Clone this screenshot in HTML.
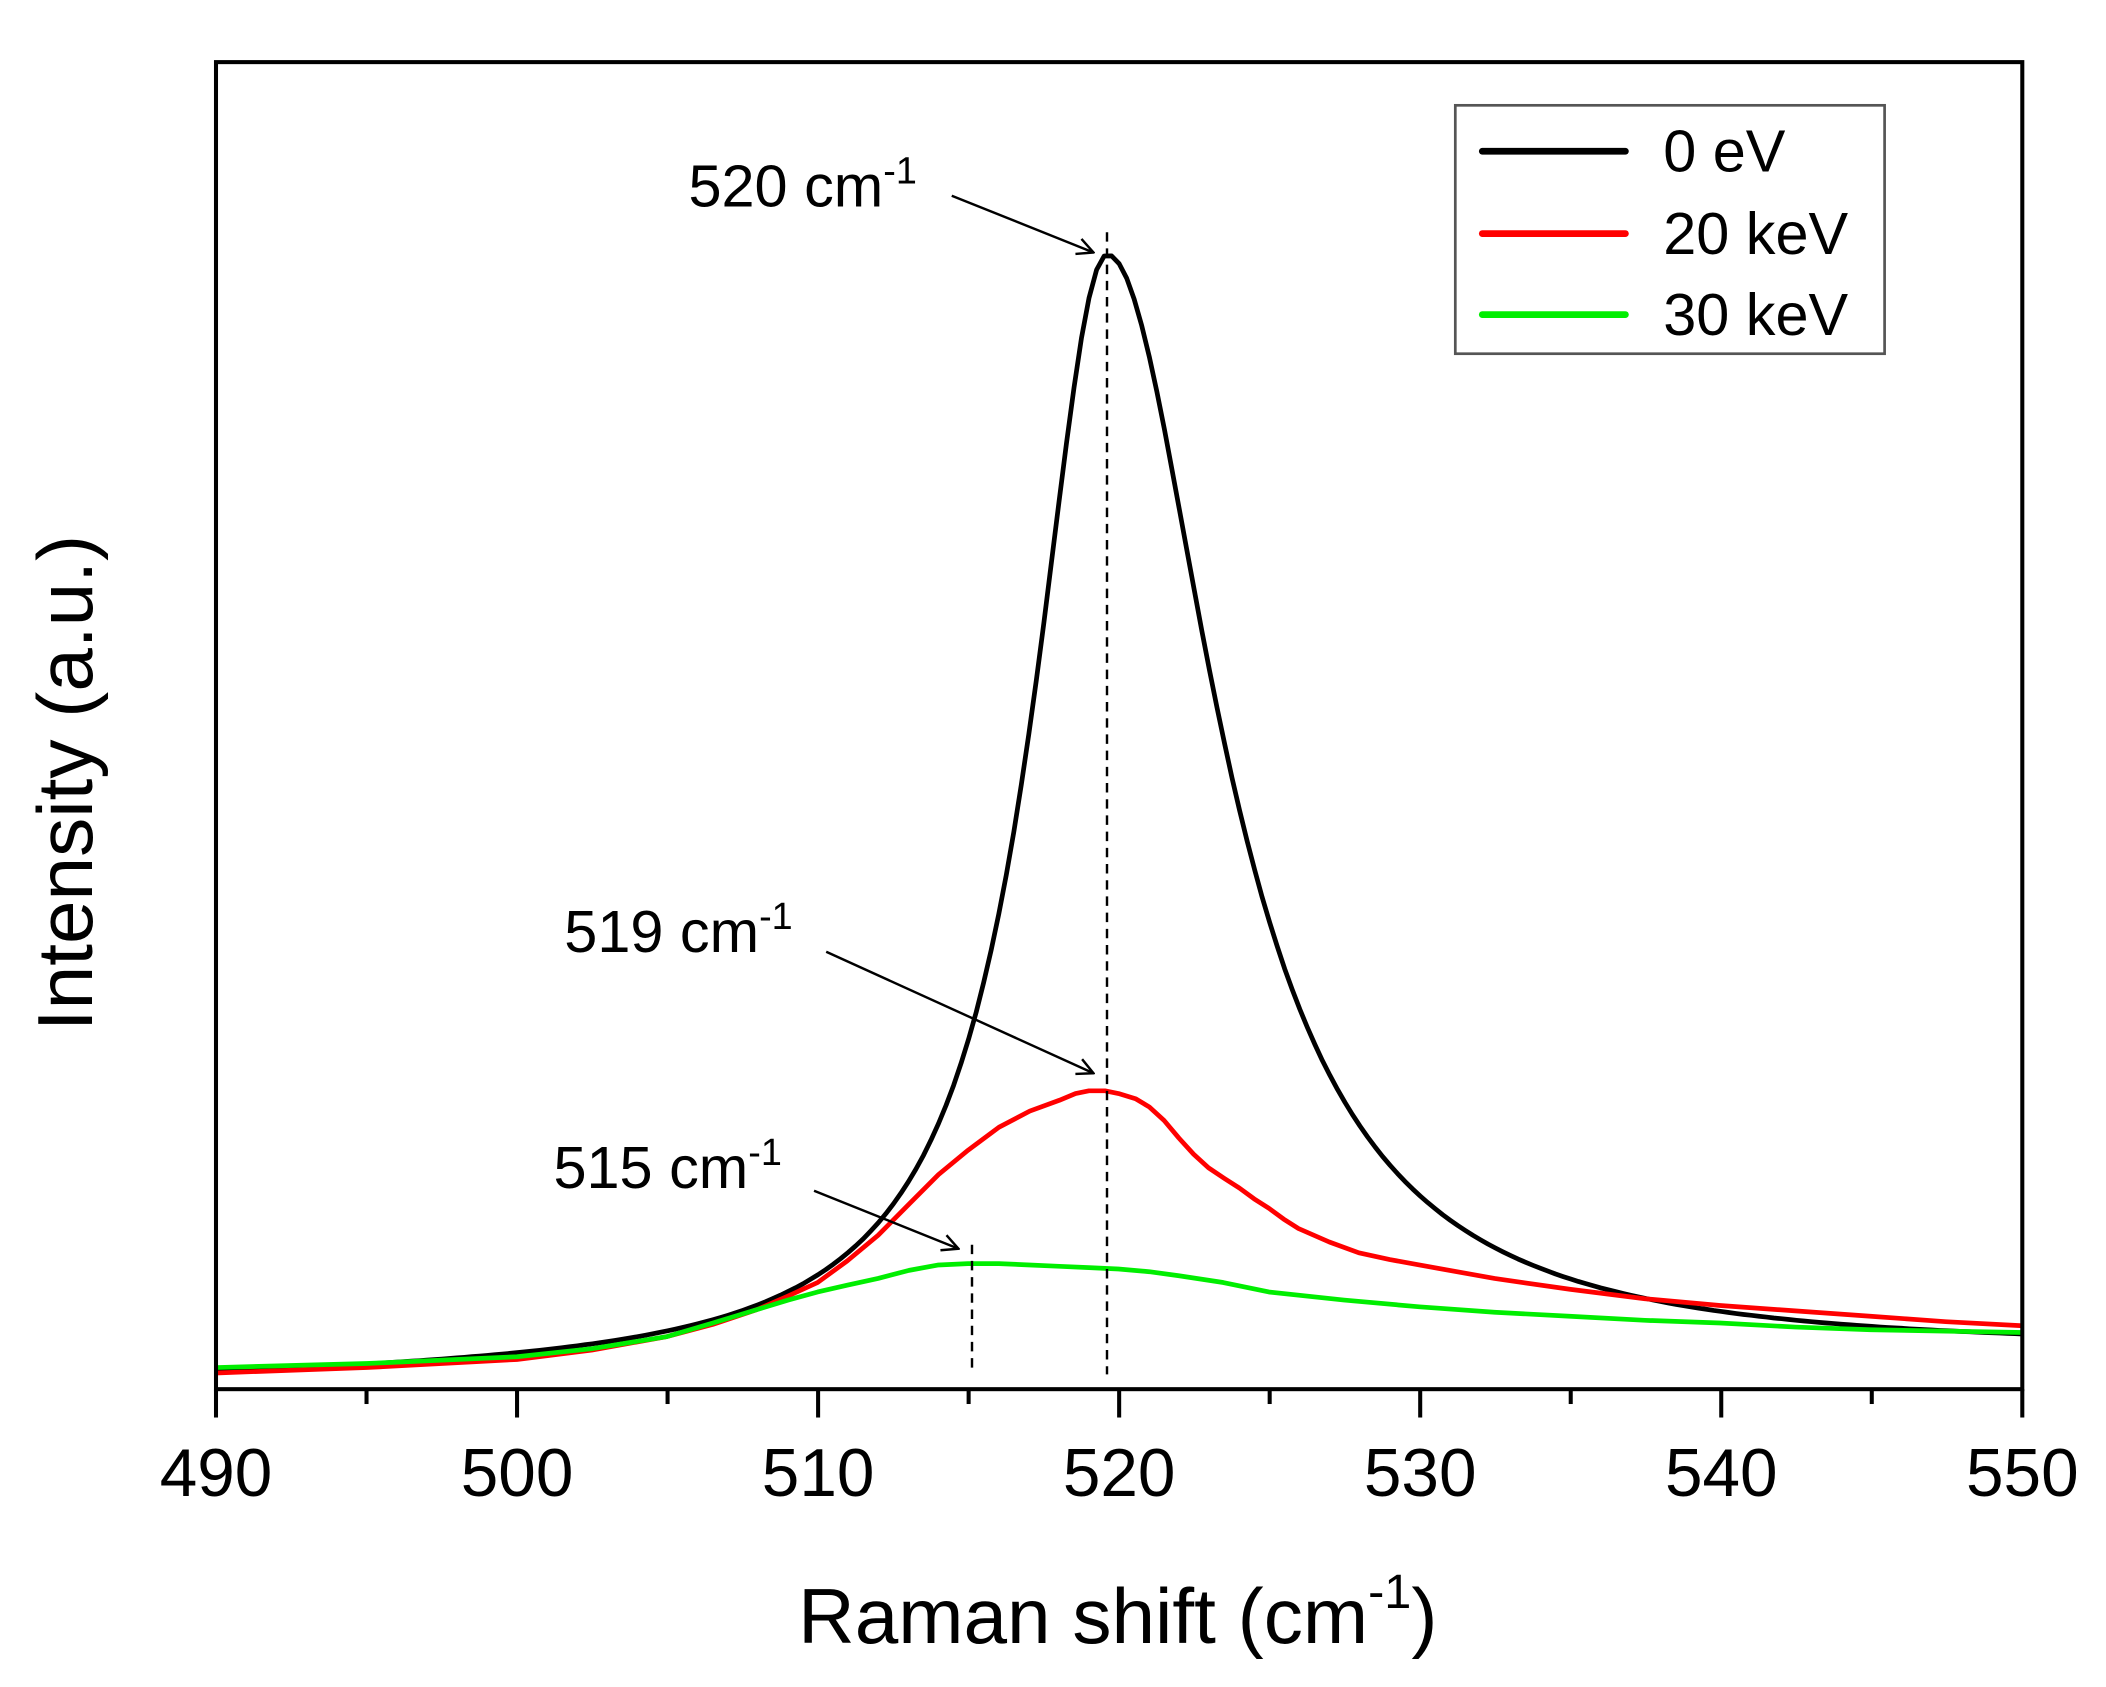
<!DOCTYPE html>
<html><head><meta charset="utf-8"><style>html,body{margin:0;padding:0;background:#fff}svg{display:block}</style></head>
<body>
<svg width="2106" height="1687" viewBox="0 0 1560 1249.6" xmlns="http://www.w3.org/2000/svg" font-family="Liberation Sans, Arial, sans-serif">
<rect width="1560" height="1250" fill="#fff"/>
<defs>
<marker id="ah" markerWidth="14" markerHeight="14" refX="13" refY="7" orient="auto" markerUnits="userSpaceOnUse">
<path d="M1,1 L13,7 L1,13" fill="none" stroke="#000" stroke-width="1.8"/>
</marker>
</defs>
<g fill="none" stroke-linejoin="round" stroke-width="3.5">
<polyline id="blk" stroke="#000" points=""/>
<g transform="translate(160,-5) scale(0.99478,1) translate(-160,0)">
<polyline stroke="#ff0000" points="160,1022 272,1018 384,1012 440,1005 496,995 530,986 563,975 586,965 608,955 630,939 653,920 676,897 698,875 720,857 743,840 766,828 788,820 800,815 810,813 822,813 832,815 845,819 855,825 866,835 877,848 888,860 899,870 911,878 922,885 933,893 944,900 955,908 966,915 989,925 1011,933 1034,938 1056,942 1112,952 1168,960 1224,967 1280,972 1336,976 1392,980 1448,984 1505,987"/>
<polyline stroke="#00ee00" points="160,1018 272,1015 384,1010 440,1004 496,995 530,985 563,975 586,968 608,962 630,957 653,952 676,946 698,942 720,941 743,941 766,942 788,943 810,944 832,945 855,947 877,950 910,955 944,962 1000,968 1056,973 1112,977 1168,980 1224,983 1280,985 1336,988 1392,990 1448,991 1505,992"/>
</g>
</g>
<script>
(function(){var p=[];for(var v=490;v<=550.001;v+=0.25){var d=v-519.6,w=d<0?3:4.4;var base=1024-(v-490)*(19/60);var y=base-826/(1+(d/w)*(d/w));p.push((160+(v-490)*22.3).toFixed(1)+","+y.toFixed(1));}document.getElementById("blk").setAttribute("points",p.join(" "));})();
</script>
<g stroke="#000" stroke-width="1.8" stroke-dasharray="7,5">
<line x1="820" y1="172" x2="820" y2="1018"/>
<line x1="720" y1="922" x2="720" y2="1016"/>
</g>
<g stroke="#000" stroke-width="1.8" marker-end="url(#ah)">
<line x1="705" y1="145" x2="810" y2="187"/>
<line x1="612" y1="705" x2="810" y2="795"/>
<line x1="603" y1="882" x2="710" y2="925"/>
</g>
<g font-size="44" fill="#000">
<text x="510" y="153">520 cm<tspan font-size="28" dy="-17">-1</tspan></text>
<text x="418" y="705">519 cm<tspan font-size="28" dy="-17">-1</tspan></text>
<text x="410" y="880">515 cm<tspan font-size="28" dy="-17">-1</tspan></text>
</g>
<rect x="160" y="46" width="1338" height="983" fill="none" stroke="#000" stroke-width="3"/>
<g stroke="#000" stroke-width="3">
<line x1="160" y1="1029" x2="160" y2="1050"/><line x1="383" y1="1029" x2="383" y2="1050"/><line x1="606" y1="1029" x2="606" y2="1050"/><line x1="829" y1="1029" x2="829" y2="1050"/><line x1="1052" y1="1029" x2="1052" y2="1050"/><line x1="1275" y1="1029" x2="1275" y2="1050"/><line x1="1498" y1="1029" x2="1498" y2="1050"/>
<line x1="271.5" y1="1029" x2="271.5" y2="1040"/><line x1="494.5" y1="1029" x2="494.5" y2="1040"/><line x1="717.5" y1="1029" x2="717.5" y2="1040"/><line x1="940.5" y1="1029" x2="940.5" y2="1040"/><line x1="1163.5" y1="1029" x2="1163.5" y2="1040"/><line x1="1386.5" y1="1029" x2="1386.5" y2="1040"/>
</g>
<g font-size="50" text-anchor="middle" fill="#000">
<text x="160" y="1108">490</text><text x="383" y="1108">500</text><text x="606" y="1108">510</text><text x="829" y="1108">520</text><text x="1052" y="1108">530</text><text x="1275" y="1108">540</text><text x="1498" y="1108">550</text>
</g>
<text x="828" y="1217" font-size="58" text-anchor="middle">Raman shift (cm<tspan font-size="36" dy="-26">-1</tspan><tspan dy="26">)</tspan></text>
<text transform="translate(68,580) rotate(-90)" font-size="58" text-anchor="middle">Intensity (a.u.)</text>
<rect x="1078" y="78" width="318" height="184" fill="#fff" stroke="#555" stroke-width="2"/>
<g stroke-width="5" stroke-linecap="round">
<line x1="1098" y1="112" x2="1204" y2="112" stroke="#000"/>
<line x1="1098" y1="173" x2="1204" y2="173" stroke="#ff0000"/>
<line x1="1098" y1="233" x2="1204" y2="233" stroke="#00ee00"/>
</g>
<g font-size="44" fill="#000">
<text x="1232" y="127">0 eV</text><text x="1232" y="188">20 keV</text><text x="1232" y="248">30 keV</text>
</g>
</svg>
</body></html>
